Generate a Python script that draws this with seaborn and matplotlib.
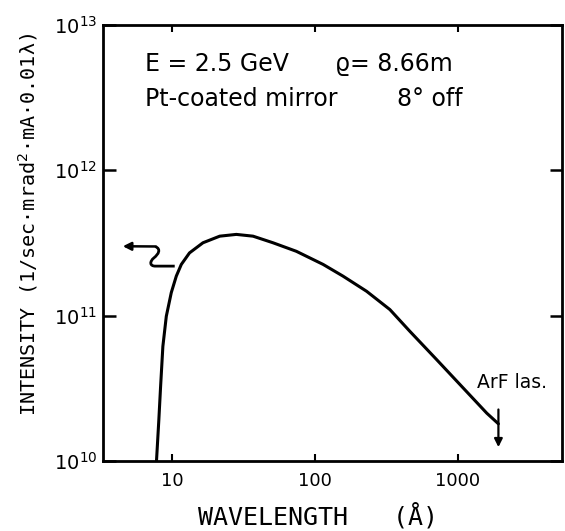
import numpy as np
import pandas as pd
import matplotlib
matplotlib.use("Agg")
import matplotlib.pyplot as plt
from matplotlib.path import Path
from matplotlib.patches import PathPatch
import seaborn as sns

# ---- data ----
wavelength = [7.75, 8.05, 8.28, 8.59, 9.08, 9.84, 10.67, 11.57, 13.2, 16.4, 21.5, 28.1,
              36.8, 50.8, 74, 114, 157, 230, 335, 462, 712, 1095, 1600, 1930]
intensity = [1.0e10, 1.92e10, 3.25e10, 6.14e10, 9.9e10, 1.44e11, 1.87e11, 2.25e11,
             2.70e11, 3.17e11, 3.52e11, 3.62e11, 3.52e11, 3.17e11, 2.77e11, 2.25e11,
             1.87e11, 1.47e11, 1.10e11, 7.8e10, 4.98e10, 3.17e10, 2.13e10, 1.8e10]
x_ticks = [10, 100, 1000]
x_tick_labels = ["10", "100", "1000"]
y_ticks = [1e10, 1e11, 1e12, 1e13]
arf_wavelength = 1930
arf_arrow_y = [2.36e10, 1.19e10]

df = pd.DataFrame({"wavelength": wavelength, "intensity": intensity})

sns.set_style("ticks")
plt.rcParams["font.family"] = ["DejaVu Sans"]
plt.rcParams["text.color"] = "black"
plt.rcParams["axes.labelcolor"] = "black"
plt.rcParams["xtick.color"] = "black"
plt.rcParams["ytick.color"] = "black"

fig = plt.figure(figsize=(5.65, 5.31), dpi=100)
ax = fig.add_axes([0.182, 0.132, 0.813, 0.821])

sns.lineplot(data=df, x="wavelength", y="intensity", ax=ax, color="black",
             linewidth=2.2, estimator=None, sort=False)

ax.set_xscale("log")
ax.set_yscale("log")
ax.set_xlim(3.26, 5400)
ax.set_ylim(1e10, 1e13)
ax.set_xticks(x_ticks)
ax.set_xticklabels(x_tick_labels)
ax.set_yticks(y_ticks)
ax.minorticks_off()

for s in ax.spines.values():
    s.set_linewidth(2.0)
    s.set_color("black")

ax.tick_params(axis="x", which="major", direction="in", top=True, bottom=True,
               length=5, width=1.5, labelsize=13, pad=8, colors="black")
ax.tick_params(axis="y", which="major", direction="in", left=True, right=True,
               length=9, width=1.8, labelsize=14, pad=4, colors="black")

mono = "DejaVu Sans Mono"
ax.set_xlabel("WAVELENGTH   (Å)", fontsize=18, family=mono, va="baseline")
ax.xaxis.set_label_coords(0.468, -0.147)
ax.set_ylabel("INTENSITY (1/sec·mrad$^2$·mA·0.01λ)", fontsize=14.5, family=mono)
ax.yaxis.set_label_coords(-0.137, 0.543)

# ---- annotations ----
ax.text(0.092, 0.895, "E = 2.5 GeV", transform=ax.transAxes, fontsize=17, va="baseline")
ax.text(0.505, 0.895, "ϱ= 8.66m", transform=ax.transAxes, fontsize=17, va="baseline")
ax.text(0.092, 0.813, "Pt-coated mirror", transform=ax.transAxes, fontsize=17, va="baseline")
ax.text(0.64, 0.813, "8° off", transform=ax.transAxes, fontsize=17, va="baseline")

ax.text(1365, 3.45e10, "ArF las.", fontsize=13.5, va="center", ha="left")
ax.annotate("", xy=(arf_wavelength, arf_arrow_y[1]), xytext=(arf_wavelength, arf_arrow_y[0]),
            arrowprops=dict(arrowstyle="-|>", lw=1.6, color="black", mutation_scale=12))

# squiggle pointing to the left axis
verts = [(10.4, 2.19e11), (7.6, 2.19e11),
         (6.95, 2.19e11), (6.9, 2.35e11), (7.45, 2.5e11),
         (8.0, 2.65e11), (8.4, 2.86e11), (7.6, 2.99e11)]
codes = [Path.MOVETO, Path.LINETO,
         Path.CURVE4, Path.CURVE4, Path.CURVE4,
         Path.CURVE4, Path.CURVE4, Path.CURVE4]
ax.add_patch(PathPatch(Path(verts, codes), fill=False, lw=2.0, edgecolor="black",
                       transform=ax.transData))
ax.annotate("", xy=(4.5, 3.0e11), xytext=(7.62, 2.99e11),
            arrowprops=dict(arrowstyle="-|>", lw=1.8, color="black", mutation_scale=12,
                            shrinkA=0, shrinkB=0))

fig.savefig("out.png", dpi=100)
